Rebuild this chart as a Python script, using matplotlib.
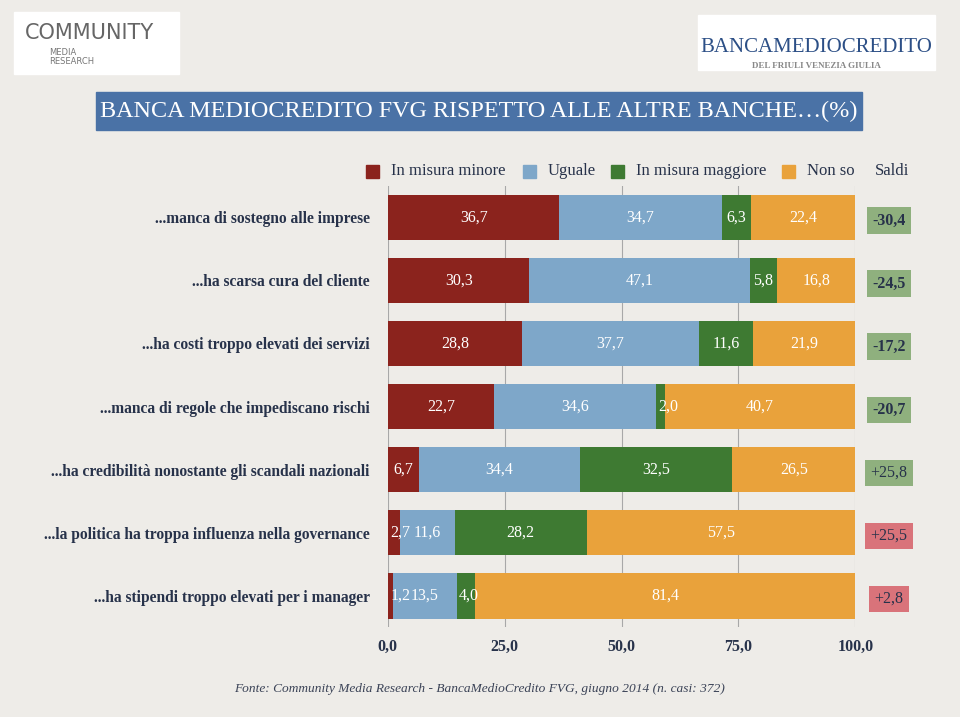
import matplotlib.pyplot as plt
from matplotlib.patches import Rectangle
import numpy as np

# Dati
domande = [
    '...manca di sostegno alle imprese',
    '...ha scarsa cura del cliente',
    '...ha costi troppo elevati dei servizi',
    '...manca di regole che impediscano rischi',
    '...ha credibilità nonostante gli scandali nazionali',
    '...la politica ha troppa influenza nella governance',
    '...ha stipendi troppo elevati per i manager',
]
minore = [36.7, 30.3, 28.8, 22.7, 6.7, 2.7, 1.2]
uguale = [34.7, 47.1, 37.7, 34.6, 34.4, 11.6, 13.5]
maggiore = [6.3, 5.8, 11.6, 2.0, 32.5, 28.2, 4.0]
non_so = [22.4, 16.8, 21.9, 40.7, 26.5, 57.5, 81.4]
saldi = ['-30,4', '-24,5', '-17,2', '-20,7', '+25,8', '+25,5', '+2,8']
saldi_positivi = [True, True, True, True, True, False, False]  # verde / rosso
serie_nomi = ['In misura minore', 'Uguale', 'In misura maggiore', 'Non so']
colori = ['#8b231d', '#7ea7c9', '#3e7a32', '#e9a23b']
tick_vals = [0, 25, 50, 75, 100]
tick_labels = ['0,0', '25,0', '50,0', '75,0', '100,0']

navy = '#27324a'
serif = ['Liberation Serif', 'DejaVu Serif']

fig = plt.figure(figsize=(9.6, 7.17), dpi=100)
fig.patch.set_facecolor('#eeece8')

ax = fig.add_axes([0.404, 0.125, 0.487, 0.616])
ax.set_facecolor('none')

y = np.arange(len(domande))
serie = [minore, uguale, maggiore, non_so]
left = np.zeros(len(domande))
for vals, col in zip(serie, colori):
    vals = np.array(vals)
    ax.barh(y, vals, left=left, height=0.72, color=col, zorder=3)
    for yi, (l, v) in enumerate(zip(left, vals)):
        xc = max(l + v / 2, l + 2.7)
        ax.text(xc, yi, f'{v:.1f}'.replace('.', ','), ha='center', va='center',
                color='white', fontsize=11.5, family=serif, zorder=4)
    left = left + vals

ax.set_xlim(0, 100)
ax.set_ylim(len(domande) - 0.5, -0.5)
ax.set_xticks(tick_vals)
ax.set_xticklabels(tick_labels, family=serif, fontsize=11.5, fontweight='bold', color=navy)
ax.set_yticks(y)
ax.set_yticklabels(domande, family=serif, fontsize=11.2, fontweight='bold', color=navy)
ax.tick_params(length=0, pad=13)
ax.tick_params(axis='x', pad=8)
ax.grid(axis='x', color='#a8a8a8', linewidth=0.8, zorder=0)
for s in ax.spines.values():
    s.set_visible(False)

# Saldi
for yi, (s, pos) in enumerate(zip(saldi, saldi_positivi)):
    ax.text(107.2, yi + 0.05, s, ha='center', va='center', fontsize=11.5, family=serif,
            color=navy, fontweight='bold' if s.startswith('-') else 'normal',
            bbox=dict(boxstyle='square,pad=0.32', fc='#8fb07e' if pos else '#d9737a', ec='none'),
            clip_on=False)

# Legenda
W, H = 960, 717
def fx(px):
    return px / W
def fy(py):
    return 1 - py / H

leg_x = [366, 523, 611, 782]
for px, nome, col in zip(leg_x, serie_nomi, colori):
    fig.patches.append(Rectangle((fx(px), fy(178)), fx(13), 13 / H, color=col,
                                 transform=fig.transFigure))
    fig.text(fx(px + 25), fy(171), nome, ha='left', va='center', family=serif,
             fontsize=12, color=navy)
fig.text(fx(892), fy(171), 'Saldi', ha='center', va='center', family=serif,
         fontsize=12, color=navy)

# Titolo
fig.patches.append(Rectangle((fx(96), fy(130)), fx(766), 38 / H, color='#4a72a6',
                             transform=fig.transFigure))
fig.text(fx(479), fy(111), 'BANCA MEDIOCREDITO FVG RISPETTO ALLE ALTRE BANCHE\u2026(%)',
         ha='center', va='center', family=serif, fontsize=17.4, color='white')

# Loghi
fig.patches.append(Rectangle((fx(14), fy(74)), fx(165), 62 / H, color='white',
                             transform=fig.transFigure))
fig.text(fx(25), fy(33), 'COMMUNITY', ha='left', va='center', family='DejaVu Sans',
         fontsize=15, color='#666666')
fig.text(fx(49), fy(57), 'MEDIA\nRESEARCH', ha='left', va='center', family='DejaVu Sans',
         fontsize=6, color='#777777', linespacing=1.1)
fig.patches.append(Rectangle((fx(698), fy(70)), fx(237), 55 / H, color='white',
                             transform=fig.transFigure))
fig.text(fx(816), fy(48), 'BANCAMEDIOCREDITO', ha='center', va='center', family=serif,
         fontsize=15, color='#2c4f86')
fig.text(fx(816), fy(66), 'DEL FRIULI VENEZIA GIULIA', ha='center', va='center',
         family=serif, fontsize=6.5, color='#888888', fontweight='bold')

# Fonte
fig.text(fx(480), fy(689), 'Fonte: Community Media Research - BancaMedioCredito FVG, giugno 2014 (n. casi: 372)',
         ha='center', va='center', family=serif, fontsize=9.6, style='italic', color='#3a4256')

fig.savefig('out.png', dpi=100, facecolor=fig.get_facecolor())
